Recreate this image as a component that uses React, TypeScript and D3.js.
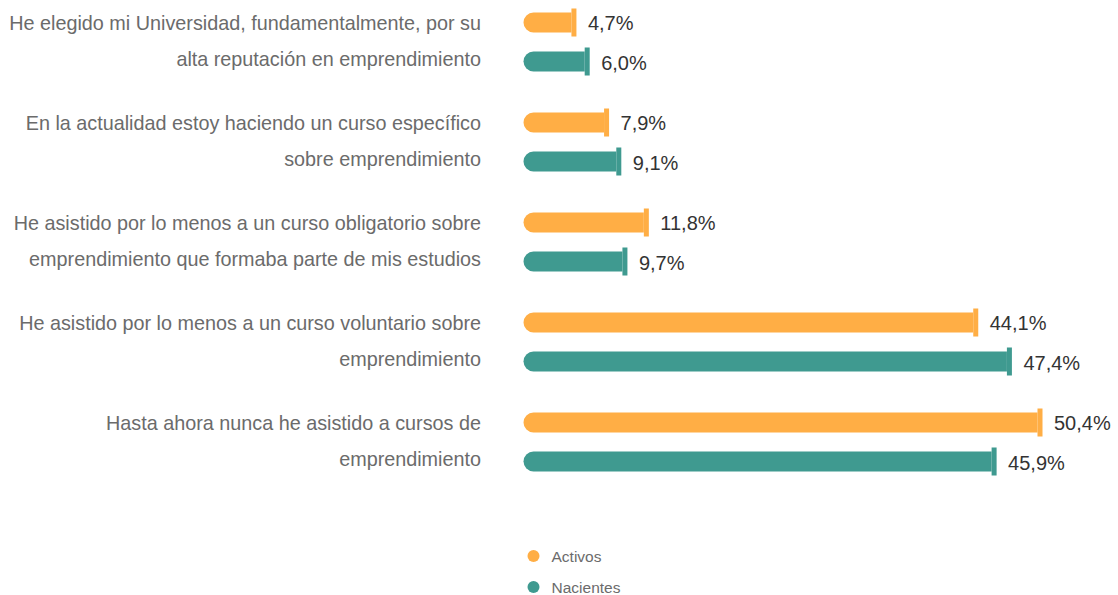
import React from "react";
import * as d3 from "d3";

const categories = [
  ["He elegido mi Universidad, fundamentalmente, por su", "alta reputación en emprendimiento"],
  ["En la actualidad estoy haciendo un curso específico", "sobre emprendimiento"],
  ["He asistido por lo menos a un curso obligatorio sobre", "emprendimiento que formaba parte de mis estudios"],
  ["He asistido por lo menos a un curso voluntario sobre", "emprendimiento"],
  ["Hasta ahora nunca he asistido a cursos de", "emprendimiento"],
];
const seriesNames = ["Activos", "Nacientes"];
const activos = [4.7, 7.9, 11.8, 44.1, 50.4];
const nacientes = [6.0, 9.1, 9.7, 47.4, 45.9];
const colors = ["#FFAE45", "#3F9A90"];

const W = 1118;
const H = 595;

export default function App() {
  const keys = categories.map((_, i) => String(i));
  const y0 = d3.scaleBand<string>().domain(keys).range([0, 500]);
  const y1 = d3
    .scaleBand<string>()
    .domain(seriesNames)
    .range([12.5, 71.5])
    .paddingInner(0.4872);
  const x = d3.scaleLinear().domain([0, 50.4]).range([526, 1040]);
  const bw = y1.bandwidth();
  const r = bw / 2;
  const fmt = (v: number) => v.toFixed(1).replace(".", ",") + "%";
  const values = [activos, nacientes];
  const capH = 28;
  const capW = 5;

  return (
    <svg
      width={W}
      height={H}
      style={{ position: "absolute", left: 0, top: 0, fontFamily: "Arial, 'Liberation Sans', sans-serif" }}
    >
      {categories.map((lines, i) => {
        const gy = y0(String(i))!;
        const base = gy + y1(seriesNames[0])! + r + 7.5;
        return (
          <g key={i}>
            {lines.map((ln, j) => (
              <text
                key={j}
                x={481}
                y={base + j * 36.5}
                textAnchor="end"
                fontSize={19.8}
                fill="#6b6b6b"
              >
                {ln}
              </text>
            ))}
            {seriesNames.map((s, k) => {
              const v = values[k][i];
              const top = gy + y1(s)!;
              const cy = top + r;
              const xs = x(0) - capW / 2;
              const xe = x(v) - capW / 2;
              const p = d3.path();
              p.moveTo(xs + r, top);
              p.lineTo(xe, top);
              p.lineTo(xe, top + bw);
              p.lineTo(xs + r, top + bw);
              p.arc(xs + r, cy, r, Math.PI / 2, (3 * Math.PI) / 2);
              p.closePath();
              return (
                <g key={s}>
                  <path d={p.toString()} fill={colors[k]} />
                  <rect x={xe} y={cy - capH / 2} width={capW} height={capH} fill={colors[k]} />
                  <text x={x(v) + 14} y={cy + 8} fontSize={20} fill="#333333">
                    {fmt(v)}
                  </text>
                </g>
              );
            })}
          </g>
        );
      })}
      {seriesNames.map((s, k) => (
        <g key={s}>
          <circle cx={533.5} cy={556 + k * 31} r={6} fill={colors[k]} />
          <text x={551.5} y={556 + k * 31 + 5.5} fontSize={15.5} fill="#6b6b6b">
            {s}
          </text>
        </g>
      ))}
    </svg>
  );
}
